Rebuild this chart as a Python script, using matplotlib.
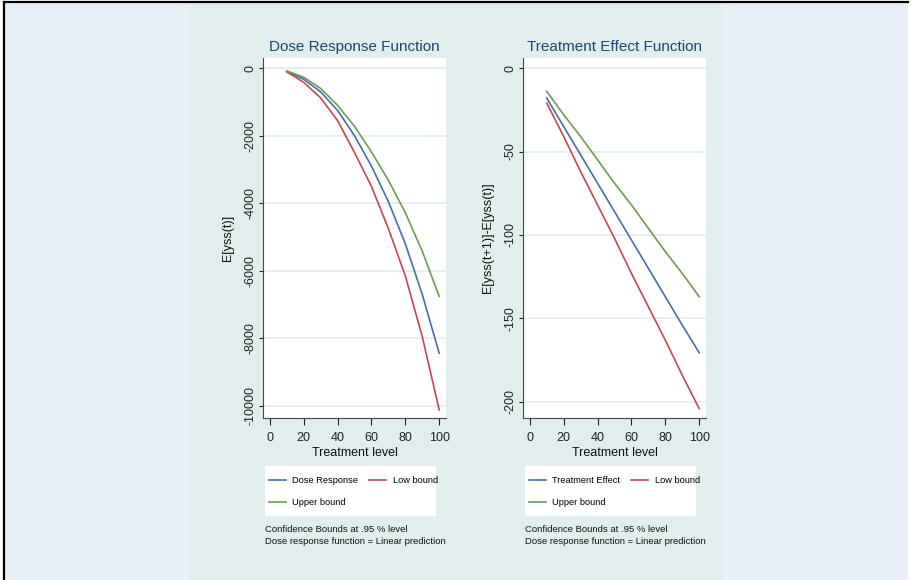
import matplotlib.pyplot as plt
from matplotlib.patches import Rectangle
from matplotlib.lines import Line2D

plt.rcParams['font.family'] = ['Liberation Sans', 'DejaVu Sans']

# treatment levels
levels = [10, 20, 30, 40, 50, 60, 70, 80, 90, 100]

# dose response function E[yss(t)]
dose_response = [-90, -330, -700, -1250, -2000, -2900, -3950, -5200, -6700, -8440]
dose_low = [-110, -420, -880, -1550, -2500, -3500, -4750, -6150, -7950, -10120]
dose_up = [-80, -270, -600, -1100, -1720, -2480, -3320, -4280, -5420, -6760]

# treatment effect function E[yss(t+1)]-E[yss(t)]
effect = [-18, -35, -52, -69, -86, -103, -120, -137, -154, -170.5]
effect_low = [-21, -41, -62, -82, -102, -123, -143, -163, -184, -204]
effect_up = [-14, -28, -41, -55, -69, -82, -96, -110, -123, -137]

x_ticks = [0, 20, 40, 60, 80, 100]
dose_ticks = [0, -2000, -4000, -6000, -8000, -10000]
effect_ticks = [0, -50, -100, -150, -200]

W, H = 913, 580
c_blue, c_red, c_green = '#44709f', '#bd4a54', '#6d9c50'
title_col = '#1a476f'

fig = plt.figure(figsize=(W / 100, H / 100), dpi=100, facecolor='white')


def fx(px):
    return px / W


def fy(py):
    return 1 - py / H


# backgrounds
fig.patches.append(Rectangle((fx(4), 0), fx(904), fy(2), transform=fig.transFigure,
                             facecolor='#e8eef7', edgecolor='none', zorder=-3))
fig.patches.append(Rectangle((fx(188), 0), fx(536), fy(3), transform=fig.transFigure,
                             facecolor='#e2eded', edgecolor='none', zorder=-2))
fig.lines.append(Line2D([fx(4), fx(908)], [fy(2), fy(2)], transform=fig.transFigure,
                        color='black', lw=1.6))
fig.lines.append(Line2D([fx(4), fx(4)], [0, fy(2)], transform=fig.transFigure,
                        color='black', lw=1.6))

panels = [
    (263, 'Dose Response Function', 'E[yss(t)]', dose_response, dose_low, dose_up,
     dose_ticks, (-10356, 300), 'Dose Response'),
    (523, 'Treatment Effect Function', 'E[yss(t+1)]-E[yss(t)]', effect, effect_low, effect_up,
     effect_ticks, (-209.6, 6), 'Treatment Effect'),
]

for left, title, ylab, mid, low, up, yt, ylim, name in panels:
    ax = fig.add_axes([fx(left), fy(418), fx(183), (418 - 58) / H])
    ax.set_facecolor('white')
    l1, = ax.plot(levels, mid, color=c_blue, lw=1.2, label=name)
    l2, = ax.plot(levels, low, color=c_red, lw=1.2, label='Low bound')
    l3, = ax.plot(levels, up, color=c_green, lw=1.2, label='Upper bound')
    ax.set_xlim(-4, 104)
    ax.set_ylim(*ylim)
    ax.set_xticks(x_ticks)
    ax.set_yticks(yt)
    ax.set_yticklabels([str(v) for v in yt], rotation=90, va='center')
    ax.grid(axis='y', color='#e6f0f2', lw=1.4)
    ax.set_axisbelow(True)
    for s in ['top', 'right']:
        ax.spines[s].set_visible(False)
    for s in ['left', 'bottom']:
        ax.spines[s].set_color('#444444')
        ax.spines[s].set_linewidth(0.8)
    ax.tick_params(labelsize=9, colors='#222222', width=0.8)
    ax.tick_params(axis='x', length=5, pad=5)
    ax.tick_params(axis='y', length=3, pad=2)
    ax.set_xlabel('Treatment level', fontsize=9, color='#111111', labelpad=2)
    ax.set_ylabel(ylab, fontsize=9, color='#111111', labelpad=7)
    ax.set_title(title, fontsize=11, color=title_col, pad=5)

    # legend box
    fig.patches.append(Rectangle((fx(left + 2), fy(516)), fx(171), (516 - 466) / H,
                                 transform=fig.transFigure, facecolor='white',
                                 edgecolor='none', zorder=1))
    leg = fig.legend(handles=[l1, l3, l2], ncol=2, loc='upper left',
                     bbox_to_anchor=(fx(left + 6), fy(476)),
                     bbox_transform=fig.transFigure, fontsize=6.7,
                     frameon=False, handlelength=1.8, handletextpad=0.7,
                     borderpad=0, borderaxespad=0, labelspacing=1.45,
                     columnspacing=1.2)
    leg.set_zorder(2)

    fig.text(fx(left + 2), fy(529), 'Confidence Bounds at .95 % level', fontsize=6.8,
             va='center', color='#111111')
    fig.text(fx(left + 2), fy(541), 'Dose response function = Linear prediction',
             fontsize=6.8, va='center', color='#111111')

fig.savefig('out.png', dpi=100, facecolor=fig.get_facecolor())
